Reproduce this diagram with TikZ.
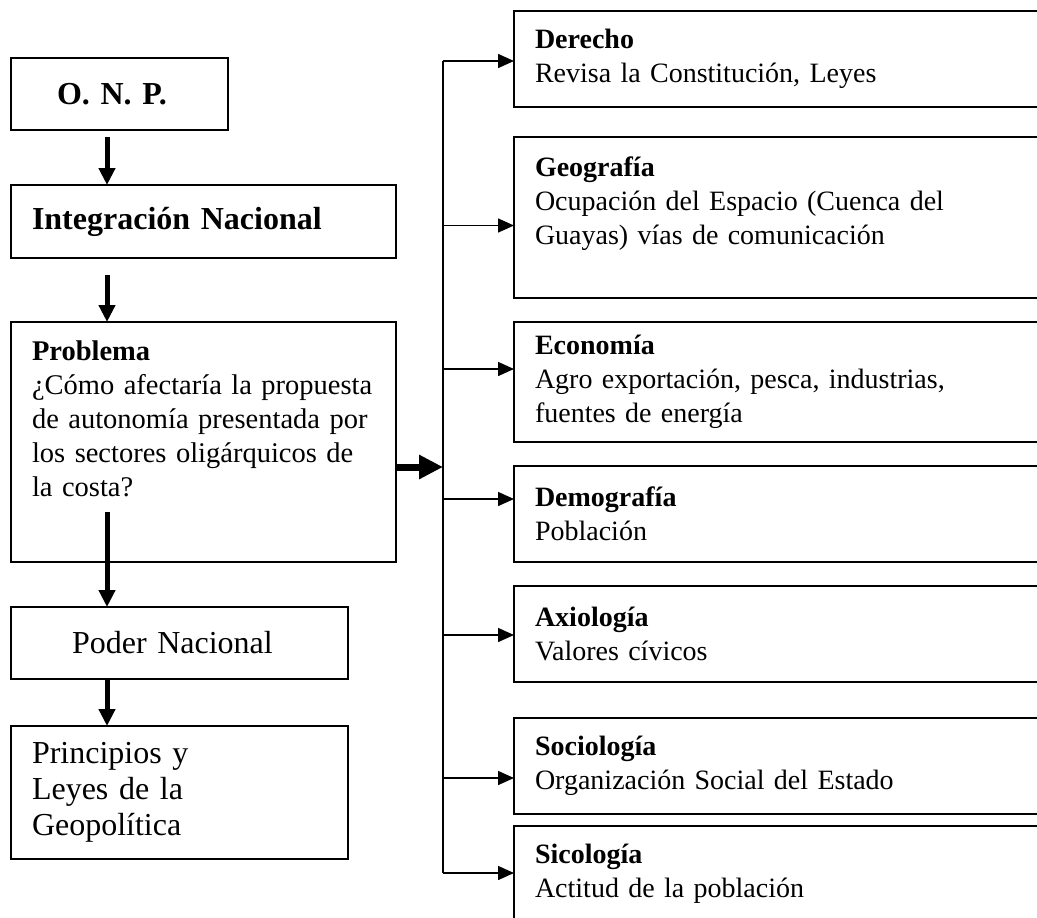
\documentclass[tikz,border=0pt]{standalone}
\usepackage{fontspec}
\setmainfont{Liberation Serif}
\usetikzlibrary{arrows.meta,positioning,calc}
\tikzset{>=Triangle}
\hyphenpenalty=10000

\begin{document}
\begin{tikzpicture}[x=1pt, y=-1pt,
  box/.style = {draw, line width=1.6pt, anchor=north west, outer sep=0pt, inner ysep=0pt, inner xsep=21pt, align=left},
  lbox/.style = {box, font=\fontsize{32}{36}\selectfont},
  rbox/.style = {box, minimum width=600pt, text width=558pt, font=\fontsize{28}{34}\selectfont},
  downarr/.style = {-{Triangle[length=17pt,width=16pt]}, line width=5pt},
  bigarr/.style = {-{Triangle[length=24pt,width=23pt]}, line width=7pt},
  branch/.style = {-{Triangle[length=16pt,width=14pt]}, line width=1.5pt}]
\useasboundingbox (0,0) rectangle (1037,918);
\clip (0,0) rectangle (1037,918);

% left column
\node[lbox, inner xsep=46pt, text width=125pt, minimum height=72pt] (onp) at (11,58) {\textbf{O. N. P.}};
\node[lbox, text width=343pt, minimum height=73pt] (intn) at (11,185) {\textbf{Integración Nacional}};
\node[lbox, text width=343pt, minimum height=240pt, font=\fontsize{28.5}{34}\selectfont] (prob) at (11,322)
  {\textbf{Problema}\\¿Cómo afectaría la propuesta\\de autonomía presentada por\\los sectores oligárquicos de\\la costa?\\[12pt] \mbox{}};
\node[lbox, inner xsep=61pt, text width=215pt, minimum height=72pt] (poder) at (11,607) {Poder Nacional};
\node[lbox, text width=295pt, minimum height=133pt] (princ) at (11,726) {Principios y\\Leyes de la\\Geopolítica};

\coordinate (ax) at (107,0);
\draw[downarr] (onp.south -| ax) ++(0,7) -- (intn.north -| ax);
\draw[downarr] (intn.south -| ax) ++(0,17) -- (prob.north -| ax);
\draw[downarr] ([yshift=50pt]prob.south -| ax) -- (poder.north -| ax);
\draw[downarr] (poder.south -| ax) -- (princ.north -| ax);

% right column
\coordinate (bus) at (443,0);
\foreach \n/\y/\h/\dy/\ttl/\txt in {
  der/11/96/-2/Derecho/{Revisa la Constitución, Leyes},
  geo/137/161/-8/Geografía/{Ocupación del Espacio (Cuenca del\\Guayas) vías de comunicación\\ \mbox{}},
  eco/322/120/13/Economía/{Agro exportación, pesca, industrias,\\fuentes de energía},
  dem/466/96/15/Demografía/{Población},
  axi/586/96/-1/Axiología/{Valores cívicos},
  soc/718/96/-12/Sociología/{Organización Social del Estado},
  sic/826/96/1/Sicología/{Actitud de la población}}
{
  \node[rbox, minimum height=\h pt] (\n) at (514,\y) {\textbf{\ttl}\\\txt};
  \coordinate (j\n) at ([yshift=\dy pt]\n.west -| bus);
  \draw[branch] (j\n) -- (j\n -| \n.west);
}
\draw[line width=1.5pt] (jder) -- (jsic);

\coordinate (hub) at (443,467);
\draw[bigarr] (prob.east |- hub) -- (hub);
\end{tikzpicture}
\end{document}
